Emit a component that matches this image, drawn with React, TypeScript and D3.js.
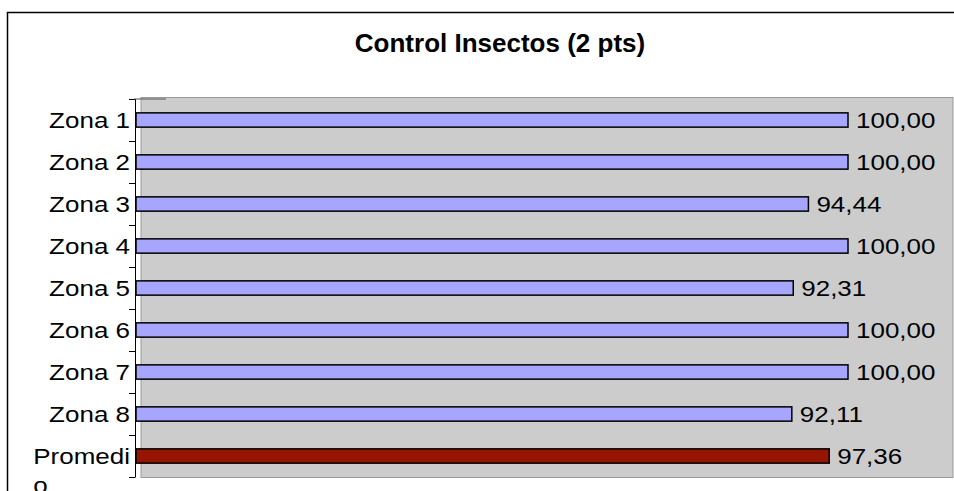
import { useEffect, useRef } from 'react';
import * as d3 from 'd3';

const categories = ['Zona 1', 'Zona 2', 'Zona 3', 'Zona 4', 'Zona 5', 'Zona 6', 'Zona 7', 'Zona 8', 'Promedio'];
const values = [100, 100, 94.44, 100, 92.31, 100, 100, 92.11, 97.36];
const title = 'Control Insectos (2 pts)';

const W = 954;
const H = 491;
const STRETCH = 1.22;
const LABEL_SIZE = 21.3;
const FONT = 'Liberation Sans, Arial, sans-serif';

export default function App() {
  const svgRef = useRef<SVGSVGElement>(null);

  useEffect(() => {
    if (!svgRef.current) return;
    const svg = d3.select(svgRef.current);
    svg.selectAll('*').remove();

    // plot geometry
    const plot = { left: 141, right: 953, top: 97, bottom: 477 };
    const axisX = 135.5;

    const x = d3.scaleLinear().domain([0, 100]).range([136, 848]);
    const y = d3.scaleBand<string>()
      .domain(categories)
      .range([99, 477])
      .paddingInner(0.66)
      .paddingOuter(0.33);

    // outer chart border (cut off at the right and bottom)
    svg.append('rect')
      .attr('x', 7.5)
      .attr('y', 12.5)
      .attr('width', 980)
      .attr('height', 500)
      .attr('fill', '#ffffff')
      .attr('stroke', '#000000')
      .attr('stroke-width', 1.5);

    // title
    svg.append('text')
      .attr('x', 500)
      .attr('y', 52)
      .attr('text-anchor', 'middle')
      .attr('font-family', FONT)
      .attr('font-weight', 'bold')
      .attr('font-size', 26)
      .attr('fill', '#000')
      .text(title);

    // plot area
    svg.append('rect')
      .attr('x', plot.left)
      .attr('y', plot.top + 0.5)
      .attr('width', plot.right - plot.left)
      .attr('height', plot.bottom - plot.top)
      .attr('fill', '#cccccc')
      .attr('stroke', '#999999')
      .attr('stroke-width', 1);

    // bars
    svg.append('g')
      .selectAll('rect')
      .data(categories)
      .join('rect')
      .attr('x', x(0))
      .attr('y', d => y(d)!)
      .attr('width', (d, i) => x(values[i]) - x(0))
      .attr('height', y.bandwidth())
      .attr('fill', d => d === 'Promedio' ? '#951600' : '#a6a6ff')
      .attr('stroke', '#000')
      .attr('stroke-width', 1.5);

    // category axis
    const step = y.step();
    const tickYs = categories.map(c => y(c)! - step * 0.33)
      .concat([y(categories[categories.length - 1])! + y.bandwidth() + step * 0.33]);
    const axis = svg.append('g').attr('stroke', '#000').attr('stroke-width', 1);
    axis.append('line')
      .attr('x1', axisX).attr('x2', axisX)
      .attr('y1', tickYs[0]).attr('y2', tickYs[tickYs.length - 1]);
    axis.selectAll('line.tick')
      .data(tickYs)
      .join('line')
      .attr('class', 'tick')
      .attr('x1', 129).attr('x2', axisX)
      .attr('y1', d => Math.round(d) + 0.5).attr('y2', d => Math.round(d) + 0.5);
    // short dark stub on top edge of the plot
    svg.append('line')
      .attr('x1', 134).attr('x2', 166)
      .attr('y1', 99).attr('y2', 99)
      .attr('stroke', '#555').attr('stroke-width', 1);

    // category labels, wrapped when too wide for the left margin
    const maxWidth = 100 / STRETCH;
    categories.forEach(c => {
      const cy = y(c)! + y.bandwidth() / 2 + 7.5;
      const g = svg.append('g').attr('transform', `translate(130,${cy}) scale(${STRETCH},1)`);
      const t = g.append('text')
        .attr('text-anchor', 'end')
        .attr('font-family', FONT)
        .attr('font-size', LABEL_SIZE)
        .attr('fill', '#000')
        .text(c);
      const w = (t.node() as SVGTextElement).getComputedTextLength();
      if (w > maxWidth) {
        // break the word at the last character that still fits
        let cut = c.length;
        while (cut > 1) {
          t.text(c.slice(0, cut));
          if ((t.node() as SVGTextElement).getComputedTextLength() <= maxWidth) break;
          cut--;
        }
        const firstW = (t.node() as SVGTextElement).getComputedTextLength();
        g.append('text')
          .attr('x', -firstW)
          .attr('y', 30)
          .attr('font-family', FONT)
          .attr('font-size', LABEL_SIZE)
          .attr('fill', '#000')
          .text(c.slice(cut));
      }
    });

    // value labels
    svg.append('g')
      .selectAll('g')
      .data(categories)
      .join('g')
      .attr('transform', (d, i) => `translate(${x(values[i]) + 8},${y(d)! + y.bandwidth() / 2 + 7.5}) scale(${STRETCH},1)`)
      .append('text')
      .attr('font-family', FONT)
      .attr('font-size', LABEL_SIZE)
      .attr('fill', '#000')
      .text((d, i) => values[i].toFixed(2).replace('.', ','));
  }, []);

  return (
    <svg
      ref={svgRef}
      width={W}
      height={H}
      style={{ position: 'absolute', left: 0, top: 0, background: '#fff' }}
    />
  );
}
